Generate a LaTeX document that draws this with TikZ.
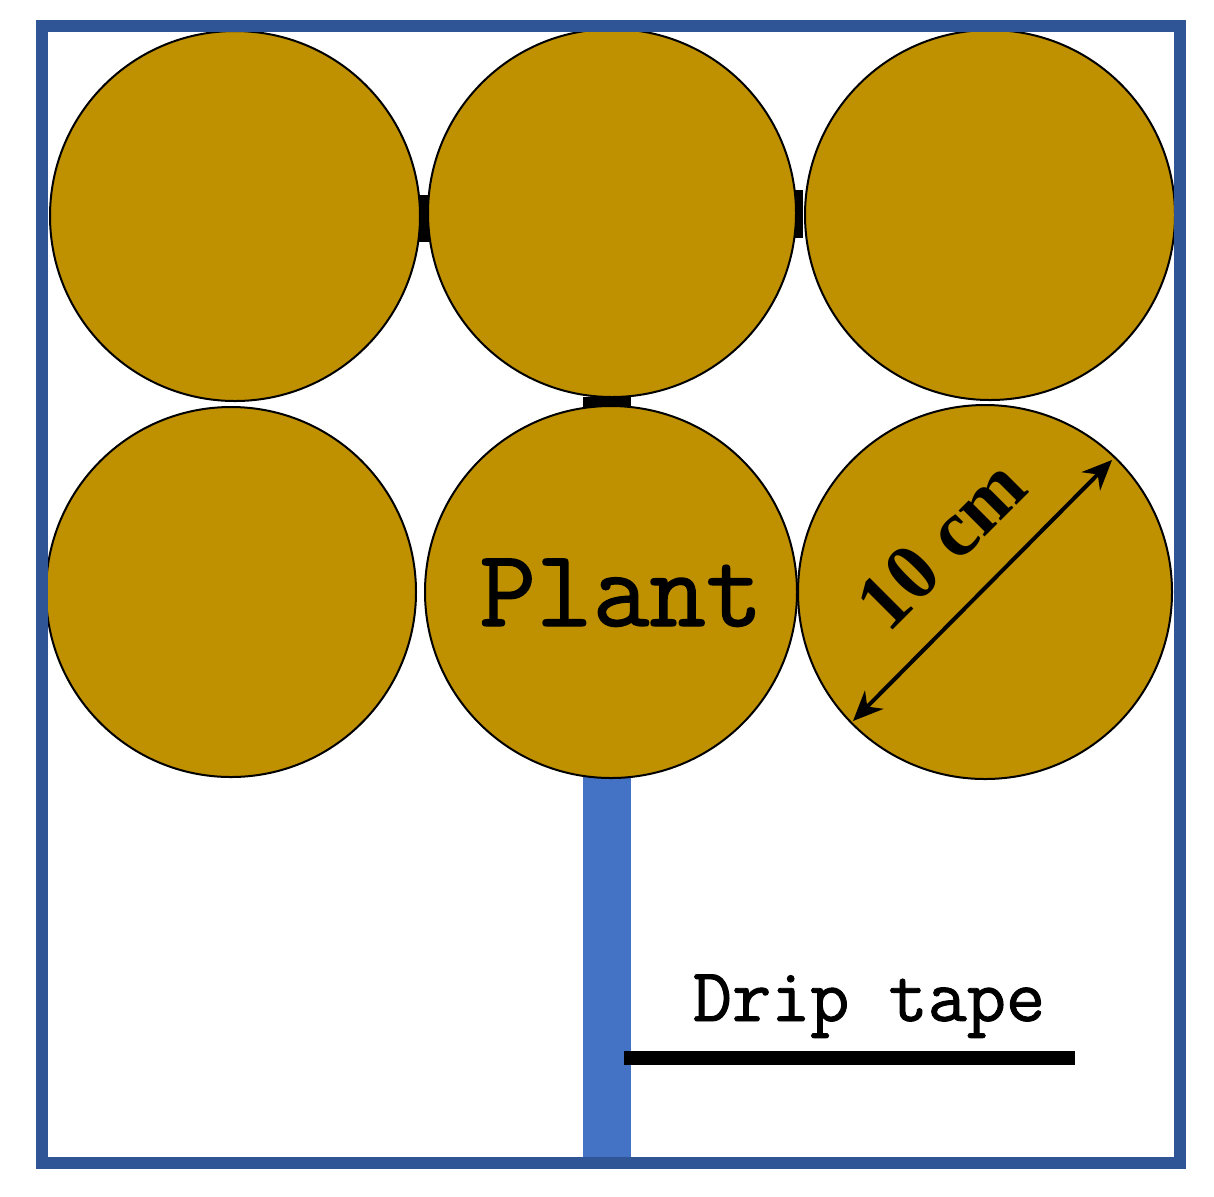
\documentclass[tikz,border=0pt]{standalone}
\usepackage{fontspec}
\setmainfont{Liberation Serif}
\newfontfamily\labelmono[FakeBold=1.2]{Latin Modern Mono}
\usetikzlibrary{arrows.meta}
\definecolor{frameblue}{HTML}{2F5597}
\definecolor{tapeblue}{HTML}{4472C4}
\definecolor{soil}{HTML}{BF9000}
\begin{document}
\begin{tikzpicture}[x=0.5pt,y=-0.5pt,
  pot/.style={circle,draw=black,line width=1pt,fill=soil,inner sep=0pt,outer sep=0pt},
  tapelabel/.style={font=\labelmono\fontsize{38}{40}\selectfont,anchor=base,inner sep=0pt},
  plantlabel/.style={font=\labelmono\fontsize{55}{58}\selectfont,anchor=base,inner sep=0pt},
  sizelabel/.style={font=\bfseries\fontsize{40}{44}\selectfont,rotate=45,inner sep=0pt}]
\useasboundingbox (0,0) rectangle (1214,1196);
% drip tape (vertical) and small dark gaps
\fill[tapeblue] (583,770) rectangle (631,1160);
\fill[black] (418,195) rectangle (430,242);
\fill[black] (791,190) rectangle (803,238);
\fill[black] (583,397) rectangle (631,408);
% pots
\node[pot,minimum size=185pt] (c1) at (235,216) {};
\node[pot,minimum size=184pt] (c2) at (612,213) {};
\node[pot,minimum size=185pt] (c3) at (990,215) {};
\node[pot,minimum size=185pt] (c4) at (231,592) {};
\node[pot,minimum size=186pt] (c5) at (611,592) {};
\node[pot,minimum size=187pt] (c6) at (985,592) {};
% frame
\draw[frameblue,line width=6pt] (42,26) rectangle (1180,1163);
% labels
\node[plantlabel] (plant) at (621,626) {Plant};
\node[tapelabel] (tape) at (869,1021) {Drip tape};
\coordinate (t1) at (624,1058);
\coordinate (t2) at (1075,1058);
\draw[line width=7pt] (t1) -- (t2);
% diameter arrow
\coordinate (a1) at (853,721);
\coordinate (a2) at (1112,460);
\draw[{Stealth[length=15pt,width=13pt]}-{Stealth[length=15pt,width=13pt]},line width=2pt] (a1) -- (a2);
\node[sizelabel] (dia) at (941,544) {10 cm};
\end{tikzpicture}
\end{document}
